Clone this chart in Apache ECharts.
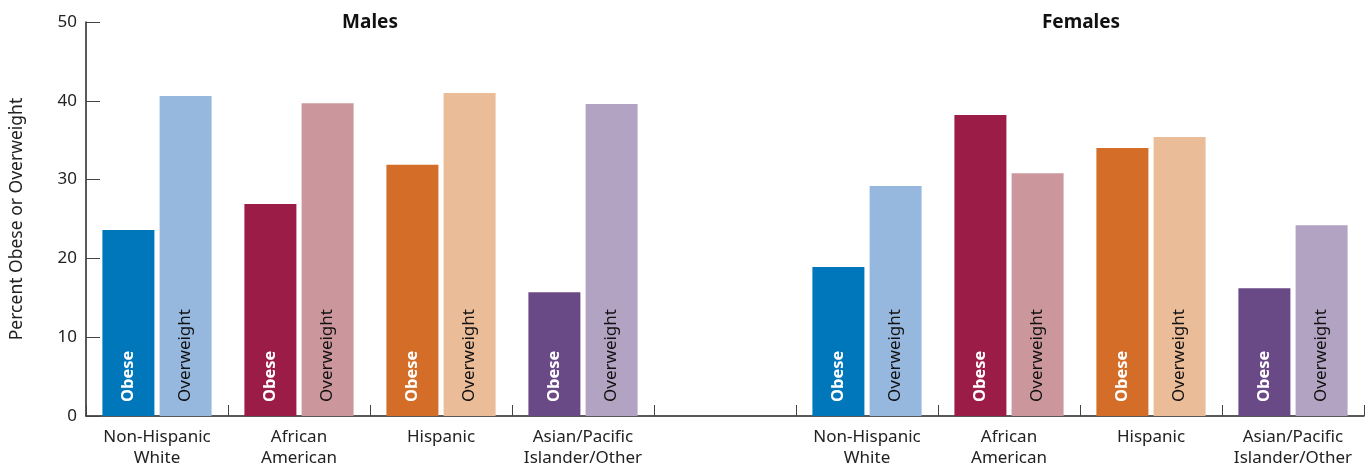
<!DOCTYPE html>
<html>
<head>
<meta charset="utf-8">
<script src="https://cdn.jsdelivr.net/npm/echarts@6/dist/echarts.min.js"></script>
<style>
html,body{margin:0;padding:0;background:#fff;}
#chart{width:1369px;height:465px;}
</style>
</head>
<body>
<div id="chart"></div>
<script>
const categories = ['Non-Hispanic\nWhite','African\nAmerican','Hispanic','Asian/Pacific\nIslander/Other','',
                    'Non-Hispanic\nWhite','African\nAmerican','Hispanic','Asian/Pacific\nIslander/Other'];
const obese      = [23.6, 26.9, 31.9, 15.7, null, 18.9, 38.2, 34.0, 16.2];
const overweight = [40.6, 39.7, 41.0, 39.6, null, 29.2, 30.8, 35.4, 24.2];
const yTicks = [0, 10, 20, 30, 40, 50];
const panelTitles = ['Males', 'Females'];
const seriesNames = ['Obese', 'Overweight'];

const obeseColors = ['#0077BA','#9B1C47','#D36D28','#6A4A86'];
const overweightColors = ['#97B8DE','#CC979C','#EBBC98','#B2A3C2'];
const FONT = 'Noto Sans';

function colorFor(list, i){ return list[(i < 4 ? i : i - 5) % 4]; }

const chart = echarts.init(document.getElementById('chart'));
chart.setOption({
  animation: false,
  textStyle: { fontFamily: FONT },
  title: [
    { text: panelTitles[0], left: 365, top: 8, textAlign: 'center',
      textStyle: { fontFamily: FONT, fontSize: 19, fontWeight: 'bold', color: '#111' } },
    { text: panelTitles[1], left: 1076, top: 8, textAlign: 'center',
      textStyle: { fontFamily: FONT, fontSize: 19, fontWeight: 'bold', color: '#111' } }
  ],
  grid: { left: 86, right: 5, top: 22, bottom: 49, containLabel: false, outerBoundsMode: 'none' },
  xAxis: {
    type: 'category',
    data: categories,
    axisLine: { lineStyle: { color: '#222', width: 1.5 } },
    axisTick: { show: true, inside: true, length: 11, interval: 0, lineStyle: { color: '#444' } },
    axisLabel: { interval: 0, color: '#222', fontSize: 17, lineHeight: 21, margin: 11, fontFamily: FONT }
  },
  yAxis: {
    type: 'value',
    min: yTicks[0], max: yTicks[yTicks.length - 1], interval: 10,
    name: 'Percent Obese or Overweight',
    nameLocation: 'middle',
    nameGap: 60,
    nameTextStyle: { fontFamily: FONT, fontSize: 17.5, color: '#222' },
    splitLine: { show: false },
    axisLine: { show: true, lineStyle: { color: '#222', width: 1.5 } },
    axisTick: { show: true, inside: true, length: 14, lineStyle: { color: '#444' } },
    axisLabel: { color: '#222', fontSize: 17, margin: 9, fontFamily: FONT }
  },
  series: [
    {
      name: seriesNames[0], type: 'bar', barWidth: 52, barGap: '10%',
      data: obese.map((v, i) => v == null ? '-' : { value: v, itemStyle: { color: colorFor(obeseColors, i) } }),
      label: { show: true, formatter: seriesNames[0], rotate: 90, position: 'insideBottom',
               align: 'left', verticalAlign: 'middle', distance: 14,
               color: '#fff', fontWeight: 'bold', fontSize: 16.5, fontFamily: FONT }
    },
    {
      name: seriesNames[1], type: 'bar', barWidth: 52, barGap: '10%',
      data: overweight.map((v, i) => v == null ? '-' : { value: v, itemStyle: { color: colorFor(overweightColors, i) } }),
      label: { show: true, formatter: seriesNames[1], rotate: 90, position: 'insideBottom',
               align: 'left', verticalAlign: 'middle', distance: 14,
               color: '#111', fontSize: 17, fontFamily: FONT }
    }
  ]
});
</script>
</body>
</html>
